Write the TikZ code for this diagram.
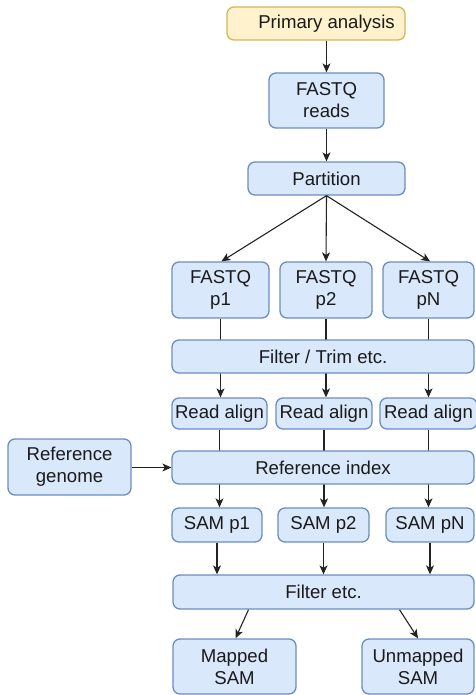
\documentclass[tikz,border=0pt]{standalone}
\usepackage{fontspec}
\setmainfont{Liberation Sans}
\usetikzlibrary{arrows.meta,backgrounds}
\definecolor{boxfill}{HTML}{DAE8FC}
\definecolor{boxline}{HTML}{6C8EBF}
\definecolor{startfill}{HTML}{FFF2CC}
\definecolor{startline}{HTML}{D6B656}
\definecolor{textcol}{HTML}{1A1A1A}
\definecolor{linecol}{HTML}{222222}
\begin{document}
\begin{tikzpicture}[x=1pt,y=-1pt,
  box/.style={draw=boxline,fill=boxfill,rounded corners=7pt,line width=1.3pt,
    inner sep=0pt,align=center,font=\fontsize{18.6}{22}\selectfont,text=textcol},
  startbox/.style={box,draw=startline,fill=startfill},
  label text/.style={inner sep=0pt,font=\fontsize{18.6}{22}\selectfont,text=textcol},
  arr/.style={-{Stealth[length=9pt,width=8pt,inset=2.5pt]},line width=1.1pt,draw=linecol}]
\useasboundingbox (0,0) rectangle (475,695);

% top of the pipeline
\node[startbox,minimum width=178pt,minimum height=33pt] (prim) at (316,23.5) {};
\node[label text] (primtext) at (326.5,23.5) {Primary analysis};
\node[box,minimum width=115pt,minimum height=55pt] (reads) at (326.5,100.5) {FASTQ\\reads};
\node[box,minimum width=157pt,minimum height=33pt] (part) at (326.5,178.5) {Partition};

% partitions
\node[box,minimum width=97pt,minimum height=56pt] (fq1) at (220.5,290) {FASTQ\\p1};
\node[box,minimum width=92pt,minimum height=56pt] (fq2) at (326,290) {FASTQ\\p2};
\node[box,minimum width=91pt,minimum height=56pt] (fqn) at (428.5,290) {FASTQ\\pN};

\node[box,minimum width=302pt,minimum height=33pt] (trim) at (323,356.5) {Filter / Trim etc.};

\node[box,minimum width=95pt,minimum height=31pt] (ra1) at (219.5,413.5) {Read align};
\node[box,minimum width=96pt,minimum height=31pt] (ra2) at (324,413.5) {Read align};
\node[box,minimum width=97pt,minimum height=31pt] (ran) at (428.5,413.5) {Read align};

\node[box,minimum width=123pt,minimum height=56pt] (genome) at (69.5,467) {Reference\\genome};
\node[box,minimum width=302pt,minimum height=33pt] (index) at (323,467.5) {Reference index};

\node[box,minimum width=90pt,minimum height=34pt] (sam1) at (217,525) {SAM p1};
\node[box,minimum width=91pt,minimum height=34pt] (sam2) at (323.5,525) {SAM p2};
\node[box,minimum width=88pt,minimum height=34pt] (samn) at (430,525) {SAM pN};

\node[box,minimum width=301pt,minimum height=34pt] (filt) at (323.5,592) {Filter etc.};

\node[box,minimum width=123pt,minimum height=55pt] (mapped) at (234.5,666.5) {Mapped\\SAM};
\node[box,minimum width=112pt,minimum height=55pt] (unmapped) at (418,666.5) {Unmapped\\SAM};

% connectors; those crossing a wide box run behind it
\begin{scope}[on background layer]
  \draw[arr] (fq1.south) -- (fq1.south |- ra1.north);
  \draw[arr] (fq2.south) -- (fq2.south |- ra2.north);
  \draw[arr] (fqn.south) -- (fqn.south |- ran.north);
  \draw[arr] (ra1.south) -- (ra1.south |- sam1.north);
  \draw[arr] (ra2.south) -- (ra2.south |- sam2.north);
  \draw[arr] (ran.south) -- (ran.south |- samn.north);
\end{scope}
\draw[arr] (primtext.south |- prim.south) -- (reads.north);
\draw[arr] (reads.south) -- (part.north);
\draw[arr] (part.south) -- ([xshift=1pt]fq1.north);
\draw[arr] (part.south) -- (fq2.north);
\draw[arr] (part.south) -- ([xshift=1.5pt]fqn.north);
\draw[arr] (genome.east |- index.west) -- (index.west);
\draw[arr] (sam1.south) -- (sam1.south |- filt.north);
\draw[arr] (sam2.south) -- (sam2.south |- filt.north);
\draw[arr] (samn.south) -- (samn.south |- filt.north);
\draw[arr] ([xshift=-75pt]filt.south) -- ([xshift=1pt]mapped.north);
\draw[arr] ([xshift=76pt]filt.south) -- (unmapped.north);
\end{tikzpicture}
\end{document}
